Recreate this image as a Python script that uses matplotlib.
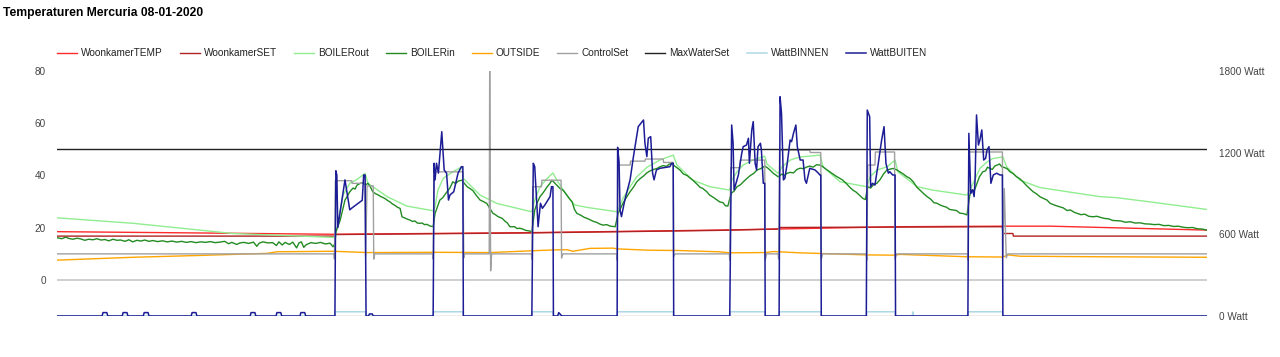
import matplotlib
matplotlib.use("Agg")
import matplotlib.pyplot as plt

plt.rcParams["font.family"] = ["Liberation Sans", "DejaVu Sans"]

TITLE = "Temperaturen Mercuria 08-01-2020"

# time in hours of the day, temperatures in degrees (left axis), power in Watt (right axis)
woonkamer_temp = [(0.00, 18.5), (2.98, 18.0), (5.76, 17.5), (9.75, 18.1), (13.81, 19.1),
                  (17.60, 20.4), (19.74, 20.6), (20.74, 20.6), (24.00, 19.1)]

woonkamer_set = [(0.00, 16.8), (5.79, 16.8), (5.80, 17.4), (9.75, 18.0), (13.81, 19.0),
                 (15.05, 19.5), (15.07, 20.1), (19.73, 20.4), (19.74, 17.8), (19.95, 17.8),
                 (19.96, 16.8), (24.00, 16.8)]

boiler_out = [(0.00, 23.8), (1.59, 21.7), (2.98, 19.1), (3.67, 17.8), (5.78, 16.3),
              (5.84, 19.1), (5.91, 26.8), (5.97, 32.5), (6.11, 37.0), (6.26, 38.5), (6.43, 40.8),
              (6.49, 37.0), (6.89, 31.9), (7.30, 28.3), (7.85, 26.5),
              (7.89, 28.0), (7.95, 34.4), (8.06, 38.9), (8.26, 41.4), (8.45, 43.3),
              (8.48, 38.9), (8.83, 32.5), (9.18, 29.3), (9.66, 27.2), (9.91, 26.1),
              (9.97, 30.6), (10.08, 35.7), (10.23, 38.9), (10.35, 41.0), (10.43, 38.2),
              (10.71, 30.6), (10.81, 28.7), (11.06, 27.8), (11.69, 26.1),
              (11.81, 31.2), (11.96, 35.7), (12.10, 39.5), (12.31, 43.1), (12.58, 45.9),
              (12.86, 47.8), (12.94, 44.0), (13.27, 38.2), (13.63, 35.7), (14.04, 34.4),
              (14.08, 38.2), (14.19, 41.4), (14.32, 44.0), (14.52, 45.9), (14.77, 47.4),
              (14.82, 44.3), (15.05, 40.8),
              (15.13, 43.3), (15.30, 45.9), (15.51, 47.1), (15.92, 47.8), (15.99, 43.3),
              (16.34, 37.6), (16.90, 35.7),
              (16.97, 39.5), (17.11, 42.1), (17.32, 43.3), (17.49, 45.9), (17.55, 41.4),
              (17.95, 35.7), (18.28, 34.4), (18.99, 32.5),
              (19.12, 37.0), (19.26, 42.7), (19.41, 45.2), (19.53, 46.5), (19.74, 47.1),
              (19.82, 43.3), (20.10, 38.2), (20.51, 35.4), (21.08, 33.8), (21.77, 31.9),
              (22.12, 31.5), (22.81, 29.9), (24.00, 27.0)]

boiler_in = [(0.00, 16.2), (0.10, 15.8), (0.18, 16.4), (0.25, 15.9), (0.33, 15.6), (0.42, 16.0),
             (0.50, 15.7), (0.58, 15.2), (0.66, 15.6), (0.75, 15.4), (0.83, 15.8), (0.92, 15.3),
             (1.00, 15.5), (1.08, 15.0), (1.17, 15.6), (1.25, 15.2), (1.33, 15.3), (1.42, 14.8),
             (1.50, 15.4), (1.58, 14.6), (1.67, 15.2), (1.75, 14.9), (1.83, 15.3), (1.92, 14.8),
             (2.00, 15.1), (2.10, 14.7), (2.20, 15.0), (2.30, 14.6), (2.40, 14.9), (2.50, 14.5),
             (2.60, 14.8), (2.70, 14.4), (2.80, 14.7), (2.90, 14.3), (3.00, 14.6), (3.10, 14.4),
             (3.20, 14.7), (3.30, 14.3), (3.40, 14.5), (3.50, 14.8), (3.58, 13.9), (3.65, 14.4),
             (3.75, 13.6), (3.82, 14.2), (3.90, 14.4), (4.00, 14.0), (4.10, 14.5), (4.17, 12.9),
             (4.22, 14.1), (4.30, 14.6), (4.40, 14.2), (4.50, 14.3), (4.58, 13.2), (4.63, 14.6),
             (4.70, 13.4), (4.76, 14.4), (4.85, 13.6), (4.92, 14.5), (5.00, 12.3), (5.05, 14.2),
             (5.10, 14.6), (5.15, 12.5), (5.20, 13.5), (5.30, 14.3), (5.40, 14.0), (5.50, 14.4),
             (5.60, 13.8), (5.70, 14.1), (5.76, 12.7), (5.80, 14.0),
             (5.82, 18.5), (5.91, 22.9), (6.01, 30.6), (6.05, 31.8), (6.11, 33.8), (6.18, 35.2),
             (6.22, 34.8), (6.26, 36.3), (6.33, 37.0), (6.39, 37.2), (6.44, 36.4), (6.49, 37.0),
             (6.54, 35.6), (6.59, 33.8), (6.65, 33.0), (6.70, 32.6), (6.75, 32.0), (6.80, 31.6),
             (6.86, 31.0), (6.90, 30.4), (6.95, 29.9), (7.00, 29.1), (7.05, 28.6), (7.10, 27.9),
             (7.16, 27.4), (7.20, 24.2), (7.25, 23.8), (7.30, 23.4), (7.37, 22.9), (7.42, 22.4),
             (7.47, 22.6), (7.52, 21.8), (7.57, 21.7), (7.62, 21.8), (7.67, 21.2), (7.72, 21.3),
             (7.78, 20.7), (7.85, 20.4),
             (7.89, 25.5), (7.99, 30.6), (8.05, 31.5), (8.14, 33.8), (8.20, 35.2), (8.26, 37.6),
             (8.32, 37.0), (8.38, 37.9), (8.45, 38.2), (8.50, 37.0), (8.56, 35.7), (8.62, 35.0),
             (8.68, 34.2), (8.75, 32.4), (8.83, 30.6), (8.90, 30.0), (8.97, 29.3), (9.03, 27.5),
             (9.10, 25.5), (9.15, 25.0), (9.20, 24.3), (9.29, 23.6), (9.35, 22.5), (9.40, 21.8),
             (9.45, 20.4), (9.55, 20.4), (9.60, 19.7), (9.66, 19.8), (9.72, 19.5), (9.78, 19.0),
             (9.85, 18.8), (9.91, 18.5),
             (9.97, 26.8), (10.02, 29.5), (10.08, 31.9), (10.15, 33.5), (10.23, 35.7),
             (10.28, 36.8), (10.33, 38.2), (10.43, 36.3), (10.50, 35.0), (10.56, 34.4),
             (10.62, 33.0), (10.68, 31.5), (10.75, 29.9), (10.80, 27.0), (10.85, 25.5),
             (10.93, 24.8), (11.00, 24.0), (11.06, 23.6), (11.13, 23.0), (11.20, 22.4),
             (11.27, 22.0), (11.33, 21.4), (11.40, 21.0), (11.47, 21.2), (11.55, 20.6),
             (11.65, 20.4),
             (11.71, 25.5), (11.81, 29.3), (11.88, 31.5), (11.96, 33.8), (12.03, 35.5),
             (12.10, 37.6), (12.17, 38.8), (12.24, 39.8), (12.31, 41.0), (12.38, 41.8),
             (12.45, 42.3), (12.52, 42.7), (12.58, 43.3), (12.65, 43.8), (12.72, 43.5),
             (12.78, 44.4), (12.83, 44.6), (12.90, 43.5), (13.00, 42.1), (13.07, 40.6),
             (13.15, 40.0), (13.20, 39.2), (13.27, 38.2), (13.35, 36.8), (13.42, 35.5),
             (13.48, 35.0), (13.56, 33.8), (13.62, 32.5), (13.70, 31.6), (13.76, 30.8),
             (13.83, 29.9), (13.90, 29.6), (13.95, 28.4), (14.00, 28.3),
             (14.07, 33.2), (14.13, 34.0), (14.19, 35.7), (14.26, 36.4), (14.33, 37.7),
             (14.40, 38.9), (14.47, 40.0), (14.54, 40.8), (14.61, 42.1), (14.68, 42.6),
             (14.72, 43.0), (14.77, 43.6), (14.83, 42.9), (14.88, 42.1), (14.95, 40.8),
             (15.00, 40.2), (15.05, 39.5),
             (15.12, 40.5), (15.18, 40.0), (15.23, 40.8), (15.30, 41.2), (15.37, 41.0),
             (15.44, 42.3), (15.51, 42.8), (15.58, 42.6), (15.64, 43.2), (15.71, 43.6),
             (15.78, 43.2), (15.85, 44.1), (15.92, 44.0), (15.98, 43.4), (16.05, 42.4),
             (16.13, 41.4), (16.20, 40.5), (16.27, 39.6), (16.33, 39.0), (16.40, 38.2),
             (16.47, 37.0), (16.54, 35.6), (16.61, 34.4), (16.68, 33.6), (16.75, 32.4),
             (16.82, 31.2), (16.87, 30.8),
             (16.92, 35.7), (16.98, 35.2), (17.04, 36.5), (17.11, 37.0), (17.18, 38.5),
             (17.25, 40.6), (17.32, 42.1), (17.38, 42.4), (17.45, 42.7), (17.52, 42.2),
             (17.59, 41.4), (17.66, 40.6), (17.73, 39.6), (17.80, 38.9), (17.87, 37.6),
             (17.94, 35.6), (18.02, 34.2), (18.09, 33.0), (18.16, 31.9), (18.23, 31.0),
             (18.30, 29.6), (18.36, 29.4), (18.43, 28.7), (18.50, 28.2), (18.56, 27.9),
             (18.63, 27.0), (18.70, 26.8), (18.77, 26.6), (18.84, 25.6), (18.92, 25.4),
             (18.99, 24.9),
             (19.05, 32.5), (19.10, 34.6), (19.14, 34.0), (19.20, 37.0), (19.25, 39.5),
             (19.32, 41.4), (19.38, 41.8), (19.42, 43.2), (19.47, 42.7), (19.52, 42.3),
             (19.57, 43.6), (19.62, 44.0), (19.67, 44.4), (19.72, 43.3), (19.78, 43.0),
             (19.83, 42.6), (19.89, 41.4), (19.95, 40.8), (20.02, 39.6), (20.09, 38.8),
             (20.16, 37.6), (20.22, 36.4), (20.29, 35.2), (20.37, 33.8), (20.44, 33.0),
             (20.52, 31.8), (20.59, 31.2), (20.66, 30.6), (20.73, 29.3), (20.80, 28.8),
             (20.86, 28.4), (20.93, 28.0), (21.00, 27.6), (21.08, 26.6), (21.15, 26.8),
             (21.22, 26.0), (21.29, 25.5), (21.37, 25.0), (21.45, 25.2), (21.53, 24.4),
             (21.62, 24.2), (21.70, 24.4), (21.77, 24.0), (21.85, 23.6), (21.95, 23.4),
             (22.03, 22.8), (22.12, 22.7), (22.20, 22.6), (22.30, 22.1), (22.40, 22.3),
             (22.50, 21.8), (22.60, 21.9), (22.70, 21.5), (22.81, 21.4), (22.90, 21.2),
             (23.00, 21.3), (23.10, 20.8), (23.20, 20.9), (23.30, 20.5), (23.40, 20.6),
             (23.50, 20.2), (23.60, 20.0), (23.70, 20.1), (23.80, 19.6), (23.90, 19.5),
             (24.00, 19.1)]

outside = [(0.00, 7.6), (1.59, 8.7), (2.98, 9.4), (4.38, 10.2), (4.59, 10.8), (5.76, 11.0),
           (6.47, 10.5), (7.85, 10.6), (9.04, 10.5), (9.93, 11.2), (10.35, 11.5), (10.64, 11.6),
           (10.77, 11.0), (11.12, 12.1), (11.60, 12.2), (11.69, 11.9), (12.37, 11.4),
           (12.94, 11.3), (13.81, 10.8), (14.04, 10.4), (14.78, 10.5), (14.95, 10.9),
           (15.50, 10.4), (16.90, 9.6), (17.49, 9.5), (17.59, 9.8), (18.99, 8.9), (19.74, 8.8),
           (19.85, 9.6), (20.10, 9.1), (21.77, 8.9), (24.00, 8.7)]

control_set = [(0.00, 10), (5.78, 10), (5.79, 8), (5.81, 38), (6.15, 38), (6.16, 37), (6.43, 37),
               (6.44, 9), (6.47, 36), (6.60, 36), (6.61, 8), (6.63, 10),
               (7.84, 10), (7.85, 8), (7.87, 41.4), (8.47, 41.4), (8.49, 8.5), (8.51, 10),
               (9.02, 10), (9.03, 80), (9.05, 3.5), (9.07, 10),
               (9.90, 10), (9.91, 8), (9.93, 35.7), (10.11, 35.7), (10.12, 38.2), (10.52, 38.2),
               (10.53, 8.4), (10.56, 10),
               (11.68, 10), (11.69, 7.6), (11.71, 44), (11.96, 44), (11.97, 45.5), (12.27, 45.5),
               (12.28, 46.3), (12.65, 46.3), (12.66, 45), (12.86, 45), (12.87, 8.9), (12.90, 10),
               (14.03, 10), (14.04, 7.6), (14.06, 43), (14.25, 43), (14.26, 45.9), (14.77, 45.9),
               (14.78, 7.6), (14.81, 10),
               (15.05, 10), (15.06, 8), (15.08, 49.7), (15.71, 49.7), (15.72, 48.8),
               (15.94, 48.8), (15.95, 8), (15.98, 10),
               (16.89, 10), (16.90, 7.6), (16.92, 44), (17.07, 44), (17.08, 49), (17.48, 49),
               (17.49, 8), (17.52, 10),
               (19.00, 10), (19.01, 7.6), (19.03, 49), (19.73, 49), (19.74, 9), (19.77, 35),
               (19.81, 8.5), (19.84, 10), (24.00, 10)]

max_water_set = [(0.00, 50), (24.00, 50)]

watt_binnen = [(0.00, 0), (5.80, 0), (5.81, 31), (6.44, 31), (6.45, 0), (7.85, 0), (7.86, 31),
               (8.47, 31), (8.48, 0), (9.91, 0), (9.92, 31), (10.35, 31), (10.36, 0),
               (11.69, 0), (11.70, 31), (12.86, 31), (12.87, 0), (14.04, 0), (14.05, 31),
               (14.77, 31), (14.78, 0), (15.07, 0), (15.08, 31), (15.94, 31), (15.95, 0),
               (16.89, 0), (16.90, 31), (17.49, 31), (17.50, 0), (17.85, 0), (17.86, 30),
               (17.87, 0), (19.01, 0), (19.02, 31), (19.73, 31), (19.74, 0), (24.00, 0)]

watt_buiten = [(0.00, 0),
               (0.94, 0), (0.96, 25), (1.04, 25), (1.06, 0),
               (1.36, 0), (1.38, 25), (1.46, 25), (1.48, 0),
               (1.80, 0), (1.82, 25), (1.90, 25), (1.92, 0),
               (2.80, 0), (2.82, 25), (2.90, 25), (2.92, 0),
               (4.03, 0), (4.05, 25), (4.13, 25), (4.15, 0),
               (4.57, 0), (4.59, 25), (4.67, 25), (4.69, 0),
               (5.07, 0), (5.09, 25), (5.17, 25), (5.19, 0),
               (5.80, 0), (5.82, 1067), (5.84, 1036), (5.86, 650), (6.01, 1000), (6.11, 780),
               (6.16, 795), (6.37, 850), (6.40, 1036), (6.43, 1036), (6.45, 0),
               (6.50, 0), (6.52, 15), (6.58, 15), (6.60, 0),
               (7.85, 0), (7.87, 1122), (7.89, 1000), (7.92, 1122), (7.96, 1050), (8.03, 1354),
               (8.08, 1073), (8.13, 1050), (8.17, 852), (8.20, 889), (8.28, 913), (8.37, 1050),
               (8.44, 1097), (8.47, 1097), (8.48, 0),
               (9.91, 0), (9.94, 1122), (9.97, 1097), (10.04, 656), (10.09, 828), (10.13, 791),
               (10.18, 815), (10.29, 877), (10.32, 950), (10.35, 950), (10.36, 0),
               (10.45, 0), (10.47, 25), (10.51, 10), (10.54, 0),
               (11.69, 0), (11.70, 1239), (11.73, 1134), (11.75, 779), (11.78, 730),
               (11.85, 852), (11.96, 1000), (12.03, 1171), (12.13, 1391), (12.24, 1440),
               (12.27, 1269), (12.31, 1171), (12.34, 1306), (12.39, 1318), (12.43, 1049),
               (12.46, 1000), (12.51, 1073), (12.58, 1085), (12.79, 1097), (12.83, 1122),
               (12.86, 1122), (12.87, 0),
               (14.04, 0), (14.08, 1403), (14.11, 1269), (14.13, 926), (14.17, 975),
               (14.22, 1036), (14.29, 1195), (14.32, 1244), (14.39, 1256), (14.43, 1306),
               (14.45, 1122), (14.50, 1367), (14.53, 1428), (14.57, 1122), (14.60, 1073),
               (14.63, 1244), (14.68, 1269), (14.70, 1220), (14.74, 975), (14.77, 975),
               (14.78, 0),
               (15.07, 0), (15.09, 1611), (15.12, 1489), (15.16, 1000), (15.19, 1012),
               (15.24, 1122), (15.30, 1293), (15.33, 1281), (15.37, 1342), (15.42, 1403),
               (15.45, 1244), (15.51, 1146), (15.57, 1146), (15.61, 1000), (15.64, 975),
               (15.71, 1085), (15.82, 1073), (15.89, 1049), (15.92, 1036), (15.94, 1036),
               (15.95, 0),
               (16.89, 0), (16.91, 1513), (16.96, 1464), (16.98, 950), (17.02, 975),
               (17.07, 962), (17.14, 1122), (17.21, 1293), (17.26, 1391), (17.30, 1122),
               (17.35, 1049), (17.38, 1060), (17.44, 1036), (17.49, 1036), (17.50, 0),
               (19.01, 0), (19.03, 1342), (19.07, 901), (19.11, 926), (19.14, 877),
               (19.16, 1000), (19.19, 1477), (19.23, 1256), (19.26, 1293), (19.30, 1367),
               (19.34, 1146), (19.38, 1159), (19.41, 1220), (19.45, 1244), (19.49, 975),
               (19.54, 1036), (19.61, 1049), (19.68, 1036), (19.73, 1036), (19.74, 0),
               (24.00, 0)]

left_ticks = [0, 20, 40, 60, 80]
right_ticks = [0, 600, 1200, 1800]

temp_series = [
    ("WoonkamerTEMP", woonkamer_temp, "#ff2a2a"),
    ("WoonkamerSET", woonkamer_set, "#b22222"),
    ("BOILERout", boiler_out, "#90ee90"),
    ("BOILERin", boiler_in, "#228b22"),
    ("OUTSIDE", outside, "#ffa500"),
    ("ControlSet", control_set, "#a0a0a0"),
    ("MaxWaterSet", max_water_set, "#222222"),
]
watt_series = [
    ("WattBINNEN", watt_binnen, "#add8e6"),
    ("WattBUITEN", watt_buiten, "#1c1c96"),
]


def main() -> None:
    fig = plt.figure(figsize=(12.8, 3.57), dpi=100)
    ax = fig.add_axes([57 / 1280, 41 / 357, 1150 / 1280, 245 / 357])
    ax2 = ax.twinx()

    ax.axhline(0, color="#cccccc", lw=1.3, zorder=0)
    ax2.axhline(0, color="#aaaaaa", lw=1.0, zorder=0)

    handles = []
    for name, pts, color in temp_series:
        t, v = zip(*pts)
        line, = ax.plot(t, v, color=color, lw=1.0, label=name)
        handles.append(line)
    for name, pts, color in watt_series:
        t, v = zip(*pts)
        line, = ax2.plot(t, v, color=color, lw=1.1, label=name)
        handles.append(line)

    ax.set_xlim(0, 24)
    ax.set_ylim(-13.78, 80)
    ax2.set_ylim(0, 1800)
    ax.set_xticks([])
    ax.set_yticks(left_ticks)
    ax.set_yticklabels([str(v) for v in left_ticks])
    ax2.set_yticks(right_ticks)
    ax2.set_yticklabels([f"{v} Watt" for v in right_ticks])
    ax.tick_params(axis="y", length=0, pad=8, labelsize=7.2, labelcolor="#444444")
    ax2.tick_params(axis="y", length=0, pad=8.5, labelsize=7.2, labelcolor="#444444")
    for a in (ax, ax2):
        for s in a.spines.values():
            s.set_visible(False)
        a.patch.set_visible(False)

    fig.legend(handles, [h.get_label() for h in handles], loc="center left",
               bbox_to_anchor=(57 / 1280, 1 - 53 / 357), ncol=9, frameon=False,
               fontsize=7.2, handlelength=2.0, handletextpad=0.4, columnspacing=1.7,
               borderpad=0, borderaxespad=0, labelcolor="#222222")

    fig.text(3 / 1280, 1 - 13 / 357, TITLE, fontsize=8.7, fontweight="bold",
             ha="left", va="center", color="#000000")

    fig.savefig("out.png", dpi=100)
    plt.close(fig)


if __name__ == "__main__":
    main()
